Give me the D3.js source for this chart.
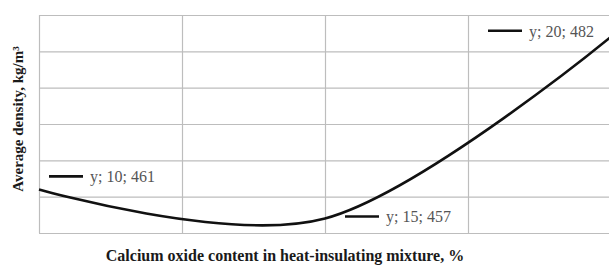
<!DOCTYPE html>
<html>
<head>
<meta charset="utf-8">
<script src="https://cdn.jsdelivr.net/npm/d3@7"></script>
<style>
  body { margin: 0; background: #fff; }
  svg { display: block; }
</style>
</head>
<body>
<div id="chart"></div>
<script>
// chart data
var xValues = [10, 15, 20];
var yValues = [461, 457, 482];
var pointLabels = ["y; 10; 461", "y; 15; 457", "y; 20; 482"];
var xGridTicks = [10, 12.5, 15, 17.5, 20];
var yGridTicks = [455, 460, 465, 470, 475, 480, 485];

var svgWidth = 609;
var svgHeight = 266;

var plot = { left: 39, right: 611, top: 15, bottom: 233 };

var svg = d3.select("#chart")
    .append("svg")
    .attr("width", svgWidth)
    .attr("height", svgHeight);

var xScale = d3.scaleLinear()
    .domain([10, 20])
    .range([plot.left, plot.right]);

var yScale = d3.scaleLinear()
    .domain([455, 485])
    .range([plot.bottom, plot.top]);

// grid lines
svg.append("g")
    .attr("transform", `translate(0, ${plot.bottom})`)
    .call(d3.axisBottom(xScale).tickValues(xGridTicks).tickSize(-(plot.bottom - plot.top)).tickFormat(""))
    .call(g => g.select(".domain").remove())
    .selectAll("line")
    .attr("stroke", "#bdbdbd")
    .attr("stroke-width", 1.2);

svg.append("g")
    .attr("transform", `translate(${plot.left}, 0)`)
    .call(d3.axisLeft(yScale).tickValues(yGridTicks).tickSize(-(plot.right - plot.left)).tickFormat(""))
    .call(g => g.select(".domain").remove())
    .selectAll("line")
    .attr("stroke", "#bdbdbd")
    .attr("stroke-width", 1.2);

var data = xValues.map((x, i) => ({ x: x, y: yValues[i], label: pointLabels[i] }));

// smoothed line
var line = d3.line()
    .x(d => xScale(d.x))
    .y(d => yScale(d.y))
    .curve(d3.curveCardinal.tension(0));

svg.append("path")
    .datum(data)
    .attr("d", line)
    .attr("fill", "none")
    .attr("stroke", "#111")
    .attr("stroke-width", 2.6);

// data labels with legend key
var labelOffsets = [[10, -13], [20, -2], [-123, -6]];

var labels = svg.selectAll("g.pointLabel")
    .data(data)
    .enter()
    .append("g")
    .attr("class", "pointLabel")
    .attr("transform", (d, i) => `translate(${xScale(d.x) + labelOffsets[i][0]}, ${yScale(d.y) + labelOffsets[i][1]})`);

labels.append("line")
    .attr("x1", 0)
    .attr("x2", 34)
    .attr("stroke", "#111")
    .attr("stroke-width", 2.6);

labels.append("text")
    .attr("x", 41)
    .attr("y", 6)
    .attr("font-family", "Liberation Serif, serif")
    .attr("font-size", "16px")
    .attr("fill", "#555")
    .text(d => d.label);

// axis titles
svg.append("text")
    .attr("x", 285)
    .attr("y", 261)
    .attr("text-anchor", "middle")
    .attr("font-family", "Liberation Serif, serif")
    .attr("font-weight", "bold")
    .attr("font-size", "16px")
    .attr("fill", "#1a1a1a")
    .text("Calcium oxide content in heat-insulating mixture, %");

svg.append("text")
    .attr("transform", "translate(23, 119) rotate(-90)")
    .attr("text-anchor", "middle")
    .attr("font-family", "Liberation Serif, serif")
    .attr("font-weight", "bold")
    .attr("font-size", "15px")
    .attr("fill", "#1a1a1a")
    .text("Average density, kg/m³");
</script>
</body>
</html>
